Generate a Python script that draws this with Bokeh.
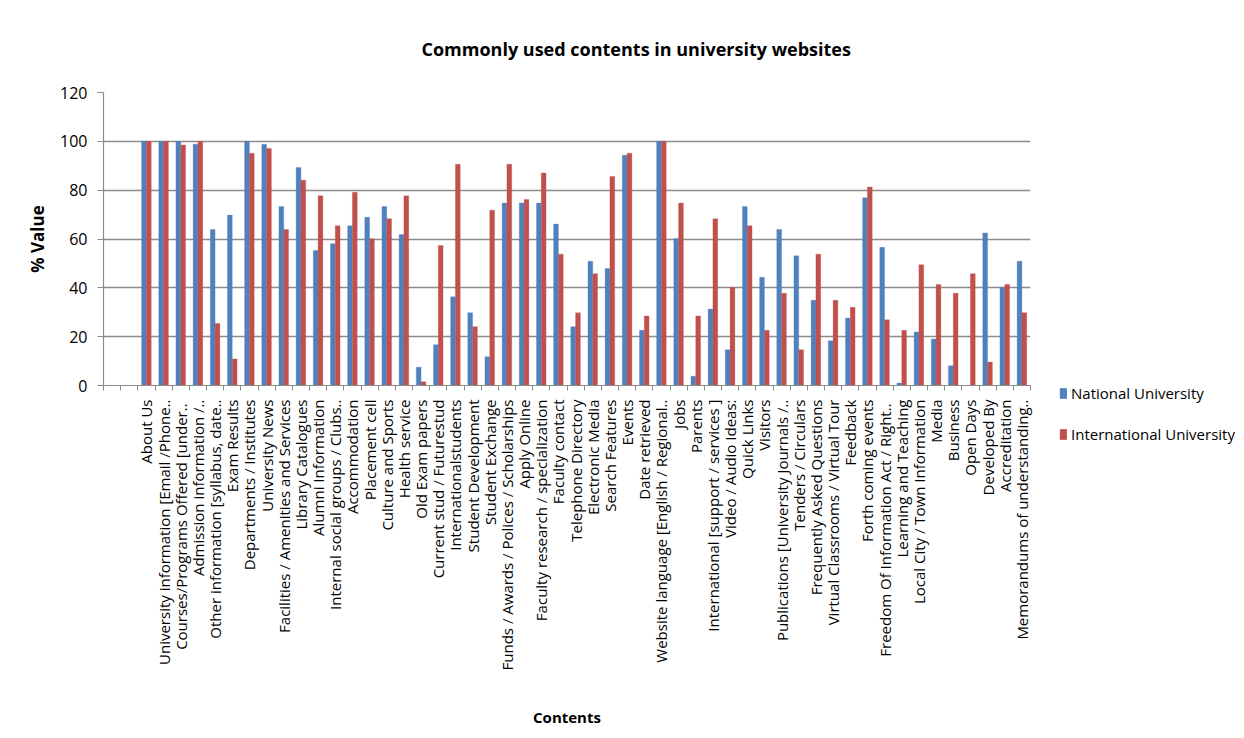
import numpy as np
from bokeh.plotting import figure
from bokeh.layouts import row, column, Spacer
from bokeh.models import Range1d, FixedTicker, Legend, LegendItem, ColumnDataSource
from bokeh.transform import dodge
from bokeh.embed import file_html
from bokeh.resources import INLINE

categories = [
    "About Us",
    "University information [Email /Phone..",
    "Courses/Programs  Offered [under..",
    "Admission information /..",
    "Other information [syllabus, date..",
    "Exam Results",
    "Departments / Institutes",
    "University News",
    "Facilities / Amenities and Services",
    "Library Catalogues",
    "Alumni Information",
    "Internal social groups / Clubs..",
    "Accommodation",
    "Placement cell",
    "Culture and Sports",
    "Health service",
    "Old Exam papers",
    "Current stud / Futurestud",
    "Internationalstudents",
    "Student Development",
    "Student Exchange",
    "Funds / Awards / Polices / Scholarships",
    "Apply Online",
    "Faculty research / specialization",
    "Faculty contact",
    "Telephone Directory",
    "Electronic Media",
    "Search Features",
    "Events",
    "Date retrieved",
    "Website language [English / Regional..",
    "Jobs",
    "Parents",
    "International [support / services ]",
    "Video / Audio Ideas:",
    "Quick Links",
    "Visitors",
    "Publications [University Journals /..",
    "Tenders / Circulars",
    "Frequently Asked Questions",
    "Virtual Classrooms / Virtual Tour",
    "Feedback",
    "Forth coming events",
    "Freedom Of  Information Act / Right..",
    "Learning and Teaching",
    "Local City / Town Information",
    "Media",
    "Business",
    "Open Days",
    "Developed By",
    "Accreditation",
    "Memorandums of understanding..",
]

national = [
    100, 100, 100, 98.8, 63.9, 69.8, 100, 98.8, 73.3, 89.3,
    55.3, 58.1, 65.4, 68.9, 73.3, 61.8, 7.5, 16.7, 36.3, 29.8,
    11.8, 74.7, 74.7, 74.7, 66.1, 24.1, 50.9, 47.9, 94.3, 22.6,
    100, 60.2, 3.8, 31.3, 14.6, 73.3, 44.3, 63.9, 53.1, 34.9,
    18.3, 27.6, 76.9, 56.6, 1.0, 21.9, 19.0, 8.1, 0, 62.5,
    40.1, 50.9,
]

international = [
    100, 100, 98.5, 100, 25.4, 10.9, 95.1, 97.1, 63.9, 84.1,
    77.7, 65.4, 79.1, 60.1, 68.3, 77.7, 1.5, 57.3, 90.6, 24.1,
    71.8, 90.6, 76.2, 87.0, 53.8, 29.8, 45.8, 85.6, 95.1, 28.5,
    100, 74.7, 28.5, 68.3, 40.1, 65.4, 22.6, 37.8, 14.6, 53.8,
    34.9, 32.0, 81.3, 26.9, 22.6, 49.5, 41.4, 37.8, 45.8, 9.6,
    41.4, 29.8,
]

series_names = ["National University", "International University"]
y_ticks = [0, 20, 40, 60, 80, 100, 120]
lead_blank_slots = 2

n = len(categories)
n_slots = n + lead_blank_slots
centers = [i + lead_blank_slots + 1 for i in range(n)]
boundaries = [k + 0.5 for k in range(0, n_slots + 1)]

src = ColumnDataSource(dict(x=centers, nat=national, intl=international, cat=categories))

FONT = "Open Sans"
BLUE = "#4F81BD"
RED = "#C0504D"
GRID = "#8C8C8C"

p = figure(
    width=1050, height=738,
    output_backend="svg", toolbar_location=None,
    x_range=Range1d(0.5, n_slots + 0.5),
    y_range=Range1d(0, 120),
    min_border_left=103, min_border_right=20,
    min_border_top=92, min_border_bottom=353,
)
p.outline_line_color = None

bw = 0.28
r1 = p.vbar(x=dodge("x", -bw / 2), top="nat", width=bw, source=src,
            fill_color=BLUE, line_color=BLUE, line_width=0.3)
r2 = p.vbar(x=dodge("x", bw / 2), top="intl", width=bw, source=src,
            fill_color=RED, line_color=RED, line_width=0.3)

# Title
p.title.text = "Commonly used contents in university websites"
p.title.text_font = FONT
p.title.text_font_size = "18px"
p.title.text_font_style = "bold"
p.title.align = "left"
p.title.offset = 318
p.title.standoff = 63
p.title.text_color = "#000000"

# X axis
xa = p.xaxis[0]
xa.ticker = FixedTicker(ticks=centers, minor_ticks=boundaries)
xa.major_label_overrides = {c: lab for c, lab in zip(centers, categories)}
xa.major_label_orientation = np.pi / 2
xa.major_label_text_font = FONT
xa.major_label_text_font_size = "15px"
xa.major_label_text_color = "#000000"
xa.major_tick_in = 0
xa.major_tick_out = 0
xa.minor_tick_in = 0
xa.minor_tick_out = 5
xa.minor_tick_line_color = GRID
xa.axis_line_color = GRID
xa.axis_line_width = 1.2
xa.major_label_standoff = 9
xa.axis_label = "Contents"
xa.axis_label_text_font = FONT
xa.axis_label_text_font_size = "15px"
xa.axis_label_text_font_style = "bold"
xa.axis_label_text_color = "#000000"
xa.axis_label_standoff = 34

# Y axis
ya = p.yaxis[0]
ya.ticker = FixedTicker(ticks=y_ticks)
ya.major_label_text_font = FONT
ya.major_label_text_font_size = "16px"
ya.major_label_text_color = "#000000"
ya.major_tick_in = 0
ya.major_tick_out = 6
ya.major_tick_line_color = GRID
ya.minor_tick_line_color = None
ya.axis_line_color = GRID
ya.axis_line_width = 1.2
ya.major_label_standoff = 10
ya.axis_label = "% Value"
ya.axis_label_text_font = FONT
ya.axis_label_text_font_size = "17px"
ya.axis_label_text_font_style = "bold"
ya.axis_label_text_color = "#000000"
ya.axis_label_standoff = 8

p.xgrid.grid_line_color = None
p.ygrid.ticker = FixedTicker(ticks=y_ticks)
p.ygrid.grid_line_color = GRID
p.ygrid.grid_line_width = 1.4

# Legend panel (separate small figure to the right of the chart)
lf = figure(
    width=194, height=66,
    output_backend="svg", toolbar_location=None,
    x_axis_type=None, y_axis_type=None,
    x_range=Range1d(0, 1), y_range=Range1d(1000, 1001),
    min_border=0,
)
lf.outline_line_color = None
lf.xgrid.visible = False
lf.ygrid.visible = False
lr1 = lf.vbar(x="x", top="nat", width=bw, source=src, fill_color=BLUE, line_color=BLUE)
lr2 = lf.vbar(x="x", top="intl", width=bw, source=src, fill_color=RED, line_color=RED)

legend = Legend(
    items=[LegendItem(label=series_names[0], renderers=[lr1]),
           LegendItem(label=series_names[1], renderers=[lr2])],
    location="top_left",
    orientation="vertical",
    border_line_color=None,
    background_fill_alpha=0,
    glyph_width=8, glyph_height=12,
    label_standoff=4,
    spacing=21,
    padding=0, margin=0,
    label_text_font=FONT,
    label_text_font_size="15px",
    label_text_color="#000000",
)
lf.add_layout(legend, "center")

legend_col = column(Spacer(width=194, height=383), row(Spacer(width=9, height=66), lf))
layout = row(p, legend_col)
open("out.html", "w").write(file_html(layout, INLINE))
